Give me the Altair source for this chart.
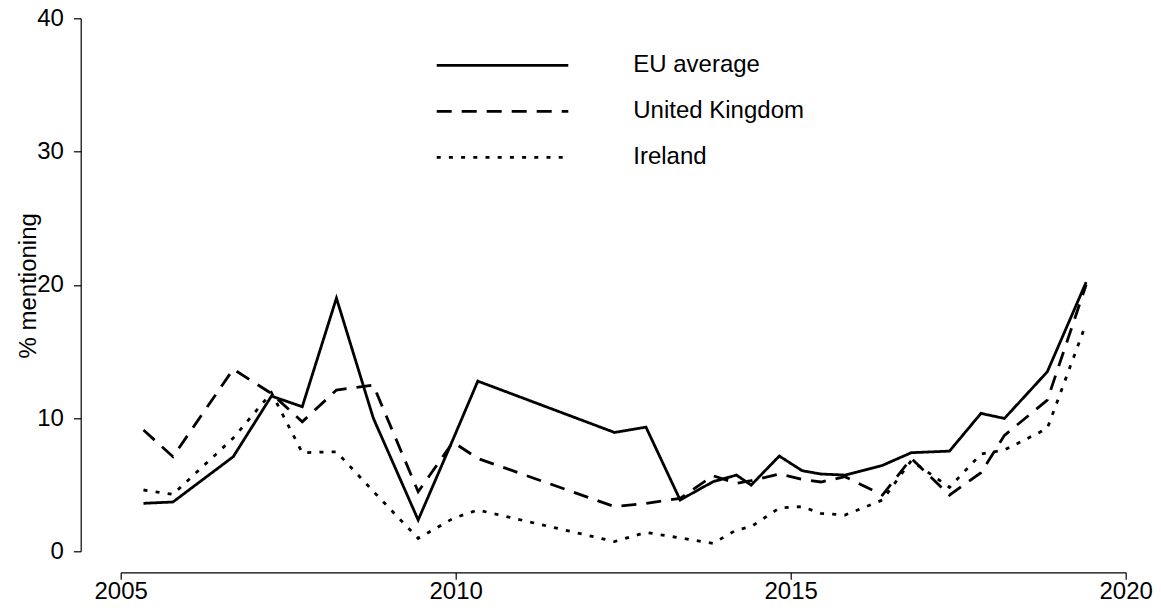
import altair as alt
import pandas as pd

# Survey wave dates (decimal years)
dates = [2005.34, 2005.78, 2006.68, 2007.25, 2007.71, 2008.22, 2008.77, 2009.44,
         2009.96, 2010.33, 2012.37, 2012.84, 2013.35, 2013.84, 2014.19, 2014.41,
         2014.83, 2015.17, 2015.45, 2015.81, 2016.37, 2016.80, 2017.37, 2017.84,
         2018.19, 2018.83, 2019.41]

eu_average = [3.6, 3.7, 7.1, 11.65, 10.85, 19.0, 10.0, 2.35,
              8.4, 12.77, 8.92, 9.32, 3.85, 5.22, 5.72, 4.97,
              7.15, 6.05, 5.8, 5.72, 6.45, 7.4, 7.52, 10.35,
              9.97, 13.47, 20.2]

united_kingdom = [9.1, 7.1, 13.67, 11.84, 9.72, 12.1, 12.47, 4.47,
                  8.2, 6.97, 3.35, 3.6, 3.97, 5.67, 5.1, 5.3,
                  5.8, 5.4, 5.2, 5.6, 4.22, 6.97, 4.22, 5.9,
                  8.7, 11.35, 20.0]

ireland = [4.6, 4.27, 8.5, 11.9, 7.4, 7.47, 4.5, 0.97,
           2.47, 3.1, 0.73, 1.42, 1.0, 0.6, 1.6, 1.85,
           3.25, 3.35, 2.85, 2.72, 3.85, 6.8, 4.8, 7.3,
           7.6, 9.22, 17.1]

series_names = ["EU average", "United Kingdom", "Ireland"]
x_ticks = [2005, 2010, 2015, 2020]
y_ticks = [0, 10, 20, 30, 40]

rows = []
for name, vals in zip(series_names, [eu_average, united_kingdom, ireland]):
    for d, v in zip(dates, vals):
        rows.append({"year": d, "value": v, "series": name})
df = pd.DataFrame(rows)

FONT = "Liberation Sans"

chart = alt.Chart(df).mark_line(strokeWidth=2.8, color="black", strokeCap="butt").encode(
    x=alt.X("year:Q",
            scale=alt.Scale(domain=[2005, 2020], nice=False, zero=False),
            axis=alt.Axis(values=x_ticks, format="d", title=None, grid=False,
                          offset=21, tickSize=7, labelPadding=0,
                          labelFontSize=24, labelFont=FONT, labelColor="black",
                          domainColor="black", tickColor="black",
                          domainWidth=1.2, tickWidth=1.2, labelFlush=False)),
    y=alt.Y("value:Q",
            scale=alt.Scale(domain=[0, 40], nice=False),
            axis=alt.Axis(values=y_ticks, title="% mentioning", grid=False,
                          offset=40, tickSize=7.3, labelPadding=10,
                          labelFontSize=24, labelFont=FONT, labelColor="black",
                          domainColor="black", tickColor="black",
                          domainWidth=1.2, tickWidth=1.2,
                          titleFontSize=24, titleFont=FONT, titleFontWeight="normal",
                          titleColor="black", titleX=-45, titleY=267,
                          titleAlign="center", titleBaseline="alphabetic",
                          titleAngle=270, labelFlush=False)),
    strokeDash=alt.StrokeDash(
        "series:N",
        scale=alt.Scale(domain=series_names, range=[[1, 0], [15, 10], [4, 8.2]]),
        sort=series_names,
        legend=alt.Legend(
            title=None, orient="none", legendX=369.8, legendY=35,
            symbolType="M-8,0H8", symbolSize=270.6, symbolStrokeWidth=2.8,
            symbolStrokeColor="black", symbolFillColor="black",
            labelFontSize=24, labelFont=FONT, labelColor="black",
            labelOffset=118.8, rowPadding=22, padding=0, labelLimit=400,
        ),
    ),
).properties(
    width=1005,
    height=533,
    padding={"left": 112.7, "top": 10.3, "right": 27, "bottom": 50.5},
    autosize=alt.AutoSizeParams(type="none"),
    background="white",
).configure_view(stroke=None, strokeWidth=0)

chart.save("out.html", embed_options={"renderer": "svg", "actions": False})
